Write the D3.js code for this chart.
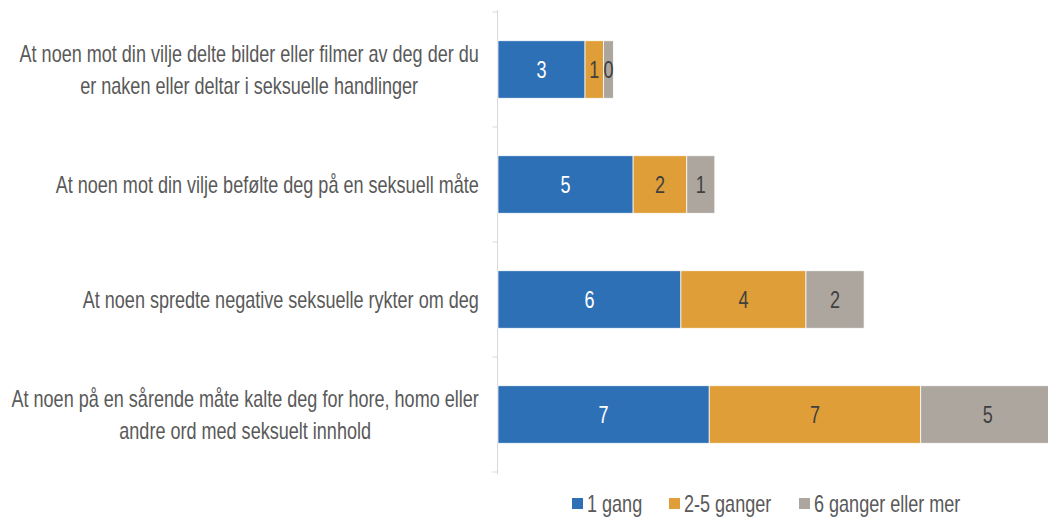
<!DOCTYPE html>
<html lang="en">
<head>
    <meta charset="UTF-8">
    <title>Seksuell trakassering</title>
    <script src="https://d3js.org/d3.v7.min.js"></script>
    <style>
        body { margin: 0; background: #fff; }
        svg { display: block; overflow: hidden; }
    </style>
</head>
<body>
    <svg width="1048" height="517"></svg>

    <script>
        // categories, top to bottom (each entry = lines of the label)
        const categories = [
            ['At noen mot din vilje delte bilder eller filmer av deg der du', 'er naken eller deltar i seksuelle handlinger'],
            ['At noen mot din vilje befølte deg på en seksuell måte'],
            ['At noen spredte negative seksuelle rykter om deg'],
            ['At noen på en sårende måte kalte deg for hore, homo eller', 'andre ord med seksuelt innhold']
        ];
        const seriesNames = ['1 gang', '2-5 ganger', '6 ganger eller mer'];
        const once = [2.95, 4.58, 6.2, 7.16];
        const twoToFive = [0.63, 1.82, 4.24, 7.17];
        const sixOrMore = [0.33, 0.95, 1.97, 4.54];
        const colors = ['#2e70b5', '#df9e37', '#ada69f'];
        const labelColors = ['#ffffff', '#404040', '#404040'];

        const fontSize = 23;
        const squeeze = 0.785; // text in the original is horizontally condensed

        const svg = d3.select('svg')
            .attr('font-family', '"Liberation Sans", Arial, sans-serif');

        const rows = categories.map((c, i) => ({ key: i, lines: c, values: [once[i], twoToFive[i], sixOrMore[i]] }));

        const x = d3.scaleLinear().domain([0, 20]).range([498, 498 + 20 * 29.5]);
        const y = d3.scaleBand().domain(rows.map(d => d.key)).range([12, 472]).paddingInner(0.5).paddingOuter(0.25);

        // axis line + ticks between categories
        const axisX = 497.5;
        svg.append('line')
            .attr('x1', axisX).attr('x2', axisX)
            .attr('y1', 10).attr('y2', 474)
            .attr('stroke', '#d9d9d9');
        const bounds = d3.range(rows.length + 1).map(i => 12 + i * y.step());
        svg.selectAll('.tick')
            .data(bounds)
            .join('line')
            .attr('class', 'tick')
            .attr('x1', axisX - 5).attr('x2', axisX)
            .attr('y1', d => d).attr('y2', d => d)
            .attr('stroke', '#d9d9d9');

        // stacked segments
        const segs = rows.flatMap(r => {
            let acc = 0;
            return r.values.map((v, j) => {
                const s = { row: r.key, j, x0: acc, x1: acc + v, v };
                acc += v;
                return s;
            });
        });

        svg.append('g')
            .selectAll('rect')
            .data(segs)
            .join('rect')
            .attr('x', d => x(d.x0))
            .attr('y', d => y(d.row))
            .attr('width', d => x(d.x1) - x(d.x0))
            .attr('height', y.bandwidth())
            .attr('fill', d => colors[d.j])
            .attr('stroke', '#ffffff')
            .attr('stroke-width', 0.75);

        svg.append('g')
            .selectAll('text')
            .data(segs)
            .join('text')
            .attr('transform', d => `translate(${(x(d.x0) + x(d.x1)) / 2},${y(d.row) + y.bandwidth() / 2}) scale(${squeeze},1)`)
            .attr('dy', '0.35em')
            .attr('text-anchor', 'middle')
            .attr('font-size', fontSize)
            .attr('fill', d => labelColors[d.j])
            .text(d => d3.format('.0f')(d.v));

        // category labels: block right-aligned to the axis, lines centred in block
        const lineH = 32;
        const labelRight = 479;
        svg.append('g')
            .selectAll('text')
            .data(rows)
            .join('text')
            .attr('font-size', fontSize)
            .attr('fill', '#595959')
            .attr('text-anchor', 'middle')
            .each(function (r) {
                const cy = y(r.key) + y.bandwidth() / 2;
                const n = r.lines.length;
                const t = d3.select(this);
                const spans = t.selectAll('tspan')
                    .data(r.lines)
                    .join('tspan')
                    .attr('x', 0)
                    .attr('y', (d, i) => (i - (n - 1) / 2) * lineH)
                    .attr('dy', '0.35em')
                    .text(d => d);
                const w = d3.max(spans.nodes(), s => s.getComputedTextLength()) * squeeze;
                t.attr('transform', `translate(${labelRight - w / 2},${cy}) scale(${squeeze},1)`);
            });

        // legend
        const legendX = [572, 669, 799];
        const legend = svg.append('g')
            .selectAll('g')
            .data(seriesNames)
            .join('g')
            .attr('transform', (d, i) => `translate(${legendX[i]},498)`);
        legend.append('rect')
            .attr('width', 11).attr('height', 11)
            .attr('y', 0)
            .attr('fill', (d, i) => colors[i]);
        legend.append('text')
            .attr('transform', `translate(15,14) scale(${squeeze},1)`)
            .attr('font-size', fontSize)
            .attr('fill', '#595959')
            .text(d => d);
    </script>
</body>
</html>
